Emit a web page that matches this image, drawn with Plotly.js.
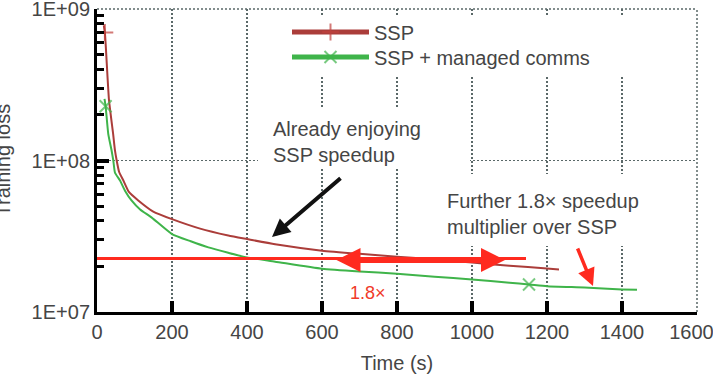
<!DOCTYPE html>
<html>
<head>
<meta charset="utf-8">
<script src="https://cdn.plot.ly/plotly-3.0.1.min.js"></script>
<style>
  html, body { margin: 0; padding: 0; background: #fff; }
  #chart { width: 713px; height: 376px; }
</style>
</head>
<body>
<div id="chart"></div>
<script>
// ---- data ----
const sspTime = [18, 21, 32, 43, 48, 52.5, 59, 70, 85, 110, 150, 200, 275, 350, 400, 475, 600, 700, 800, 900, 1000, 1100, 1200, 1232];
const sspLoss = [7.8e8, 7.0e8, 2.5e8, 1.5e8, 1.16e8, 1.0e8, 8.4e7, 7.4e7, 6.2e7, 5.45e7, 4.6e7, 4.1e7, 3.55e7, 3.2e7, 3.03e7, 2.8e7, 2.54e7, 2.42e7, 2.32e7, 2.22e7, 2.12e7, 2.02e7, 1.94e7, 1.91e7];
const sspMarkedTimes = [21];

const mgdTime = [20, 23, 30, 39, 43.5, 48, 61, 75, 92, 115, 146, 200, 250, 297, 350, 400, 475, 600, 700, 800, 900, 1000, 1100, 1152, 1200, 1300, 1400, 1440];
const mgdLoss = [2.55e8, 2.28e8, 1.5e8, 1.16e8, 1.0e8, 8.3e7, 7.4e7, 6.3e7, 5.45e7, 4.75e7, 4.2e7, 3.27e7, 2.93e7, 2.67e7, 2.46e7, 2.29e7, 2.15e7, 1.93e7, 1.85e7, 1.79e7, 1.71e7, 1.64e7, 1.56e7, 1.52e7, 1.48e7, 1.45e7, 1.41e7, 1.40e7];
const mgdMarkedTimes = [23, 1152];

const seriesNames = ['SSP', 'SSP + managed comms'];
const xTickVals = [0, 200, 400, 600, 800, 1000, 1200, 1400, 1600];
const xTickText = ['0', '200', '400', '600', '800', '1000', '1200', '1400', '1600\u00a0\u00a0'];
const yTickVals = [1e7, 1e8, 1e9];
const yTickText = ['1E+07', '1E+08', '1E+09'];
const yMinorVals = [2e7,3e7,4e7,5e7,6e7,7e7,8e7,9e7,2e8,3e8,4e8,5e8,6e8,7e8,8e8,9e8];

// ---- geometry helpers (pixel -> paper) ----
const L = 97, R = 697, T = 9, B = 312;
const px = v => (v - L) / (R - L);
const py = v => (B - v) / (B - T);

const textColor = '#454545';
const gridColor = '#5a6868';
const fontFam = 'Liberation Sans, Arial, sans-serif';

function markSizes(times, marked) {
  return times.map(t => marked.includes(t) ? 12 : 0);
}

const traces = [
  {
    x: sspTime, y: sspLoss, name: seriesNames[0], type: 'scatter', mode: 'lines+markers', legend: 'legend',
    line: { color: '#ab3d3a', width: 2, shape: 'spline', smoothing: 0.5 },
    marker: { symbol: 'cross-thin-open', size: markSizes(sspTime, sspMarkedTimes), color: '#c0403c', line: { color: '#c0403c', width: 2 } }
  },
  {
    x: mgdTime, y: mgdLoss, name: seriesNames[1], type: 'scatter', mode: 'lines+markers', legend: 'legend2',
    line: { color: '#3fb44a', width: 2, shape: 'spline', smoothing: 0.5 },
    marker: { symbol: 'x-thin-open', size: markSizes(mgdTime, mgdMarkedTimes), color: '#3fb44a', line: { color: '#3fb44a', width: 2 } }
  }
];

const white = { type: 'rect', xref: 'paper', yref: 'paper', layer: 'above', fillcolor: '#ffffff', line: { width: 0 } };
const border = { type: 'line', xref: 'paper', yref: 'paper', layer: 'below', line: { color: gridColor, width: 1.5, dash: '2px,2px' } };
const shapes = [
  Object.assign({}, border, { x0: 0, x1: 1, y0: 1, y1: 1 }),
  Object.assign({}, border, { x0: 1, x1: 1, y0: 0, y1: 1 }),
  Object.assign({}, white, { x0: px(258), x1: px(470), y0: py(168), y1: py(108) }),
  Object.assign({}, white, { x0: px(272), x1: px(628), y0: py(77), y1: py(17) }),
  Object.assign({}, white, { x0: px(425), x1: px(690), y0: py(246), y1: py(174) }),
  { type: 'line', xref: 'paper', yref: 'paper', layer: 'above', x0: 0, x1: px(526), y0: py(258.5), y1: py(258.5), line: { color: '#ff2a1f', width: 3 } }
];

const annotations = [
  { text: 'Training loss', xref: 'paper', yref: 'paper', x: px(2), y: 0.5, textangle: -90,
    showarrow: false, xanchor: 'center', yanchor: 'middle', font: { size: 20, color: textColor, family: fontFam } },
  { text: 'Already enjoying<br>SSP speedup', xref: 'paper', yref: 'paper', x: px(271), y: py(142.5),
    showarrow: false, xanchor: 'left', yanchor: 'middle', align: 'left', font: { size: 20, color: textColor, family: fontFam } },
  { text: 'Further 1.8× speedup<br>multiplier over SSP', xref: 'paper', yref: 'paper', x: px(445), y: py(214.5),
    showarrow: false, xanchor: 'left', yanchor: 'middle', align: 'left', font: { size: 20, color: textColor, family: fontFam } },
  { text: '1.8×', xref: 'paper', yref: 'paper', x: px(368), y: py(293),
    showarrow: false, xanchor: 'center', yanchor: 'middle', font: { size: 18, color: '#f03a2a', family: fontFam } },
  { text: '', xref: 'paper', yref: 'paper', x: px(272), y: py(237), ax: 70, ay: -60,
    showarrow: true, arrowhead: 2, arrowsize: 0.9, arrowwidth: 4, arrowcolor: '#111111' },
  { text: '', xref: 'paper', yref: 'paper', x: px(505), y: py(260), ax: -170, ay: 0,
    showarrow: true, arrowhead: 2, startarrowhead: 2, arrowside: 'end+start', arrowsize: 0.8, startarrowsize: 0.8, arrowwidth: 6, arrowcolor: '#ff2a1f' },
  { text: '', xref: 'paper', yref: 'paper', x: px(593), y: py(286), ax: -16, ay: -39,
    showarrow: true, arrowhead: 2, arrowsize: 1, arrowwidth: 3.5, arrowcolor: '#ff2a1f' }
];

const legendBase = {
  xref: 'paper', yref: 'paper', xanchor: 'left', yanchor: 'middle',
  bgcolor: 'rgba(0,0,0,0)', borderwidth: 0, itemwidth: 77, itemsizing: 'constant',
  font: { size: 20, color: textColor, family: fontFam }
};

const layout = {
  width: 713, height: 376,
  margin: { l: L, r: 713 - R, t: T, b: 376 - B, pad: 0 },
  paper_bgcolor: '#ffffff', plot_bgcolor: '#ffffff',
  font: { family: fontFam, color: textColor },
  showlegend: true,
  legend: Object.assign({}, legendBase, { x: px(287), y: py(32) }),
  legend2: Object.assign({}, legendBase, { x: px(287), y: py(57) }),
  xaxis: {
    type: 'linear', range: [0, 1600], tickmode: 'array', tickvals: xTickVals, ticktext: xTickText,
    showline: true, linecolor: '#000000', linewidth: 3,
    ticks: 'inside', ticklen: 11, tickwidth: 4, tickcolor: '#000000',
    showgrid: true, gridcolor: gridColor, gridwidth: 1.5, griddash: '2px,2px',
    zeroline: false, ticklabeloverflow: 'allow', tickfont: { size: 20, color: textColor, family: fontFam },
    title: { text: 'Time (s)', font: { size: 20, color: textColor, family: fontFam }, standoff: 14 }
  },
  yaxis: {
    type: 'log', range: [7, 9], tickmode: 'array', tickvals: yTickVals, ticktext: yTickText,
    showline: true, linecolor: '#000000', linewidth: 3,
    ticks: 'inside', ticklen: 12, tickwidth: 4, tickcolor: '#000000',
    minor: { tickmode: 'array', tickvals: yMinorVals, ticks: 'inside', ticklen: 7, tickwidth: 3, tickcolor: '#000000', showgrid: false },
    showgrid: true, gridcolor: gridColor, gridwidth: 1.5, griddash: '2px,2px',
    zeroline: false, ticklabeloverflow: 'allow', tickfont: { size: 20, color: textColor, family: fontFam }
  },
  shapes: shapes,
  annotations: annotations
};

Plotly.newPlot('chart', traces, layout, { displayModeBar: false, staticPlot: true });
</script>
</body>
</html>
